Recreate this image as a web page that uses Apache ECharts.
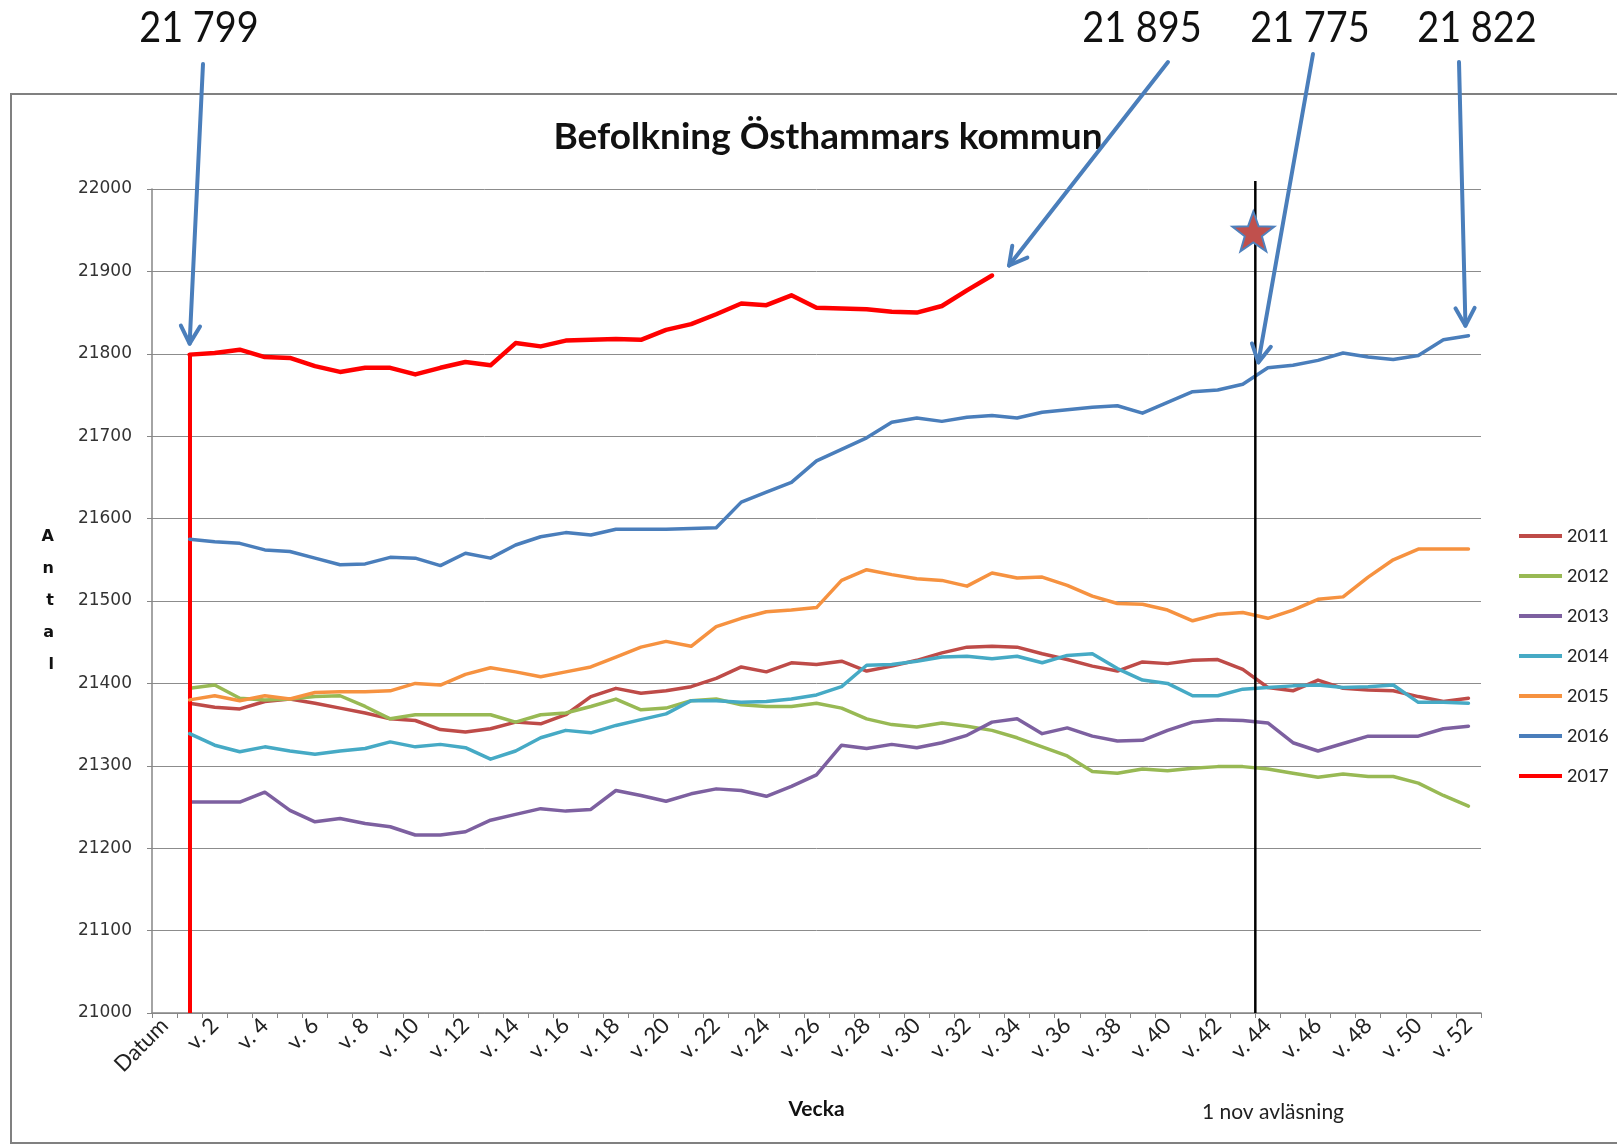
<!DOCTYPE html>
<html>
<head>
<meta charset="utf-8">
<script src="https://cdn.jsdelivr.net/npm/echarts@6/dist/echarts.min.js"></script>
<style>
html,body{margin:0;padding:0;background:#fff;}
#c{width:1617px;height:1147px;}
</style>
</head>
<body>
<div id="c"></div>
<script>
// ---- data ----
const categories = ['Datum','v. 1','v. 2','v. 3','v. 4','v. 5','v. 6','v. 7','v. 8','v. 9','v. 10',
  'v. 11','v. 12','v. 13','v. 14','v. 15','v. 16','v. 17','v. 18','v. 19','v. 20',
  'v. 21','v. 22','v. 23','v. 24','v. 25','v. 26','v. 27','v. 28','v. 29','v. 30',
  'v. 31','v. 32','v. 33','v. 34','v. 35','v. 36','v. 37','v. 38','v. 39','v. 40',
  'v. 41','v. 42','v. 43','v. 44','v. 45','v. 46','v. 47','v. 48','v. 49','v. 50',
  'v. 51','v. 52'];
const seriesNames = ['2011','2012','2013','2014','2015','2016','2017'];
const y2011 = [null,21376,21371,21369,21378,21381,21376,21370,21364,21357,21355,
  21344,21341,21345,21353,21351,21362,21384,21394,21388,21391,
  21396,21406,21420,21414,21425,21423,21427,21415,21421,21428,
  21437,21444,21445,21444,21436,21429,21421,21415,21426,21424,
  21428,21429,21417,21395,21391,21404,21394,21392,21391,21384,21378,21382];
const y2012 = [null,21394,21398,21382,21380,21381,21384,21385,21372,21357,21362,
  21362,21362,21362,21353,21362,21364,21372,21381,21368,21370,
  21379,21381,21374,21372,21372,21376,21370,21357,21350,21347,
  21352,21348,21343,21334,21323,21312,21293,21291,21296,21294,
  21297,21299,21299,21296,21291,21286,21290,21287,21287,21279,21264,21251];
const y2013 = [null,21256,21256,21256,21268,21246,21232,21236,21230,21226,21216,
  21216,21220,21234,21241,21248,21245,21247,21270,21264,21257,
  21266,21272,21270,21263,21275,21289,21325,21321,21326,21322,
  21328,21337,21353,21357,21339,21346,21336,21330,21331,21343,
  21353,21356,21355,21352,21328,21318,21327,21336,21336,21336,21345,21348];
const y2014 = [null,21339,21325,21317,21323,21318,21314,21318,21321,21329,21323,
  21326,21322,21308,21318,21334,21343,21340,21349,21356,21363,
  21379,21379,21377,21378,21381,21386,21396,21422,21423,21427,
  21432,21433,21430,21433,21425,21434,21436,21418,21404,21400,
  21385,21385,21393,21395,21397,21398,21395,21396,21398,21377,21377,21376];
const y2015 = [null,21380,21385,21379,21385,21381,21389,21390,21390,21391,21400,
  21398,21411,21419,21414,21408,21414,21420,21432,21444,21451,
  21445,21469,21479,21487,21489,21492,21525,21538,21532,21527,
  21525,21518,21534,21528,21529,21519,21506,21497,21496,21489,
  21476,21484,21486,21479,21489,21502,21505,21529,21550,21563,21563,21563];
const y2016 = [null,21575,21572,21570,21562,21560,21552,21544,21545,21553,21552,
  21543,21558,21552,21568,21578,21583,21580,21587,21587,21587,
  21588,21589,21620,21632,21644,21670,21684,21698,21717,21722,
  21718,21723,21725,21722,21729,21732,21735,21737,21728,21741,
  21754,21756,21763,21783,21786,21792,21801,21796,21793,21798,21817,21822];
const y2017 = [null,21799,21801,21805,21796,21795,21785,21778,21783,21783,21775,
  21783,21790,21786,21813,21809,21816,21817,21818,21817,21829,
  21836,21848,21861,21859,21871,21856,21855,21854,21851,21850,
  21858,21877,21895];
const yTicks = {min:21000, max:22000, step:100};
const annotations = ['21 799','21 895','21 775','21 822'];

const colors = ['#BE4B48','#98B954','#7D60A0','#46AAC5','#F69240','#4A7EBB','#FF0000'];
const values = [y2011,y2012,y2013,y2014,y2015,y2016,y2017];

const series = seriesNames.map((n,i)=>({
  name:n, type:'line', data:values[i], showSymbol:false, symbol:'none',
  connectNulls:false, animation:false,
  lineStyle:{color:colors[i], width: i===6?4.5:3.5, cap:'round', join:'round'},
  itemStyle:{color:colors[i]},
  z: 2+i
}));
series[6].markLine = {
  silent:true, symbol:['none','none'], animation:false,
  label:{show:false},
  lineStyle:{color:colors[6], width:4, type:'solid'},
  emphasis:{disabled:true},
  data:[[{coord:[categories[1], yTicks.min]},{coord:[categories[1], y2017[1]]}]]
};

const chart = echarts.init(document.getElementById('c'), null, {renderer:'canvas'});
const option = {
  animation:false,
  backgroundColor:'#fff',
  title:{
    text:'Befolkning Östhammars kommun', left:823, top:114, textAlign:'center',
    textStyle:{fontFamily:'Lato', fontWeight:'bold', fontSize:37, color:'#111'}
  },
  legend:{
    orient:'vertical', left:1519, top:526, itemWidth:43, itemHeight:4, itemGap:20,
    icon:'rect', padding:0,
    textStyle:{fontFamily:'Lato', fontSize:18, color:'#222', lineHeight:20},
    data:seriesNames
  },
  grid:{left:152, right:136, top:189, bottom:134, containLabel:false},
  xAxis:{
    type:'category', data:categories, boundaryGap:true,
    name:'Vecka', nameLocation:'middle', nameGap:86,
    nameTextStyle:{fontFamily:'Lato', fontWeight:'bold', fontSize:21, color:'#111'},
    axisLine:{lineStyle:{color:'#868686', width:1.5}},
    axisTick:{show:true, interval:0, length:5, lineStyle:{color:'#868686'}},
    axisLabel:{interval:1, rotate:45, fontFamily:'Lato', fontSize:22, color:'#222', margin:9}
  },
  yAxis:{
    type:'value', min:yTicks.min, max:yTicks.max, interval:yTicks.step,
    name:'A\nn\nt\na\nl', nameLocation:'middle', nameRotate:0, nameGap:98,
    nameTextStyle:{fontFamily:'DejaVu Sans', fontWeight:'bold', fontSize:16, color:'#111', lineHeight:32},
    axisLine:{show:true, lineStyle:{color:'#868686', width:1.5}},
    axisTick:{show:true, length:5, lineStyle:{color:'#868686'}},
    splitLine:{lineStyle:{color:'#8C8C8C', width:1}},
    axisLabel:{fontFamily:'DejaVu Sans', fontSize:17, color:'#333', margin:20,
      formatter:(v)=>String(v)}
  },
  series:series
};
chart.setOption(option);

// ---- annotations (graphic overlay) ----
const P = (c,v)=>chart.convertToPixel({xAxisIndex:0, yAxisIndex:0},[c,v]);
const blackX = (P('v. 43',yTicks.min)[0] + P('v. 44',yTicks.min)[0]) / 2;
const yBottom = P('v. 1', yTicks.min)[1];
const yTop = P('v. 1', yTicks.max)[1];
const arrowColor = '#4A7EBB';

function arrow(x1,y1,x2,y2){
  const ang = Math.atan2(y2-y1, x2-x1);
  const L = 20, a = 0.5;
  const h1 = [x2 - L*Math.cos(ang - a), y2 - L*Math.sin(ang - a)];
  const h2 = [x2 - L*Math.cos(ang + a), y2 - L*Math.sin(ang + a)];
  return [
    {type:'line', shape:{x1:x1,y1:y1,x2:x2,y2:y2}, style:{stroke:arrowColor, lineWidth:4, lineCap:'round'}, z:100},
    {type:'polyline', shape:{points:[h1,[x2,y2],h2]}, style:{stroke:arrowColor, lineWidth:4, lineCap:'round', lineJoin:'round', fill:null}, z:100}
  ];
}

const pA1 = P('v. 1', y2017[1]);
const pA2 = P('v. 33', y2017[33]);
const pA4 = P('v. 52', y2016[52]);
const yA3 = P('v. 44', 21775)[1];

const starC = [blackX - 2, P('v. 44', 21946)[1]];
const starPts = [];
for (let i=0;i<10;i++){
  const ang = (-90 + i*36) * Math.PI/180;
  const r = (i%2===0) ? 22 : 9;
  starPts.push([starC[0] + r*Math.cos(ang), starC[1] + r*Math.sin(ang)]);
}

const textX = [199, 1142, 1310, 1477];
const graphics = [
  {type:'rect', shape:{x:11, y:94, width:1700, height:1049}, style:{stroke:'#808080', lineWidth:2, fill:null}, z:-1, silent:true},
  {type:'line', shape:{x1:blackX, y1:yBottom, x2:blackX, y2:yTop-8}, style:{stroke:'#000', lineWidth:2.5}, z:90},
  {type:'polygon', shape:{points:starPts}, style:{fill:'#C0504D', stroke:'#4F81BD', lineWidth:2}, z:95},
  {type:'text', x:1273, y:1112, style:{text:'1 nov avläsning', font:'21px Lato', fill:'#222', textAlign:'center', textVerticalAlign:'middle'}, z:100}
];
annotations.forEach((t,i)=>{
  graphics.push({type:'text', x:textX[i], y:28, scaleX:0.88,
    style:{text:t, font:'43px Lato', fill:'#111', textAlign:'center', textVerticalAlign:'middle'}, z:100});
});
graphics.push(...arrow(203,64, pA1[0], pA1[1]-11));
graphics.push(...arrow(1168,62, pA2[0]+17, pA2[1]-10));
graphics.push(...arrow(1313,54, blackX+3, yA3-12));
graphics.push(...arrow(1459,62, pA4[0]-3, pA4[1]-10));

chart.setOption({graphic:graphics});
</script>
</body>
</html>
